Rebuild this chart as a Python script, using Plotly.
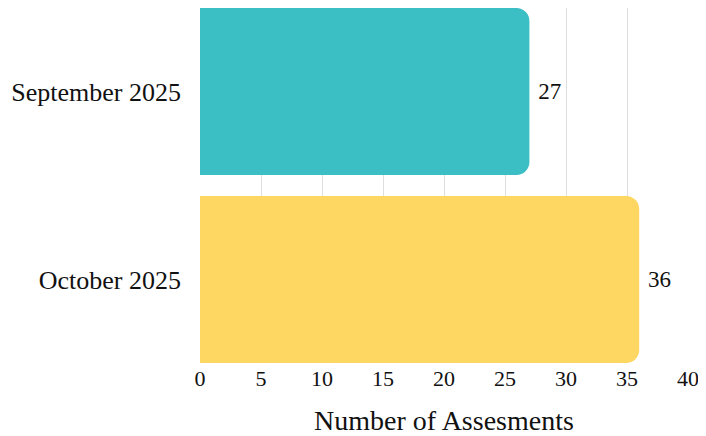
import plotly.graph_objects as go

months = ["September 2025", "October 2025"]
assessments = [27, 36]
bar_colors = ["#3BBFC4", "#FED762"]
x_ticks = [0, 5, 10, 15, 20, 25, 30, 35, 40]

fig = go.Figure(
    go.Bar(
        x=assessments,
        y=months,
        orientation="h",
        marker=dict(color=bar_colors, cornerradius=13, line=dict(width=0)),
        text=assessments,
        texttemplate=" %{x}",
        textposition="outside",
        textfont=dict(size=23, color="#111"),
        cliponaxis=False,
    )
)

# page has an 8px body margin, so the figure is drawn a little smaller
fig.update_layout(
    width=698,
    height=428,
    margin=dict(l=192, r=18, t=0, b=73, autoexpand=False),
    plot_bgcolor="white",
    paper_bgcolor="white",
    font=dict(family="Liberation Serif, serif", color="#111", size=22),
    bargap=0.111,
    showlegend=False,
)

fig.update_xaxes(
    range=[0, 40],
    tickvals=x_ticks,
    showgrid=True,
    gridcolor="#dedede",
    gridwidth=1,
    zeroline=False,
    showline=False,
    ticks="",
    tickfont=dict(size=22),
    title=dict(text="Number of Assesments", font=dict(size=28), standoff=20),
)

fig.update_yaxes(
    categoryorder="array",
    categoryarray=months,
    autorange=False,
    range=[1.4447, -0.4447],
    showgrid=False,
    showline=False,
    ticks="",
    tickfont=dict(size=26),
    ticklabelstandoff=18,
)

fig.write_html("out.html")
